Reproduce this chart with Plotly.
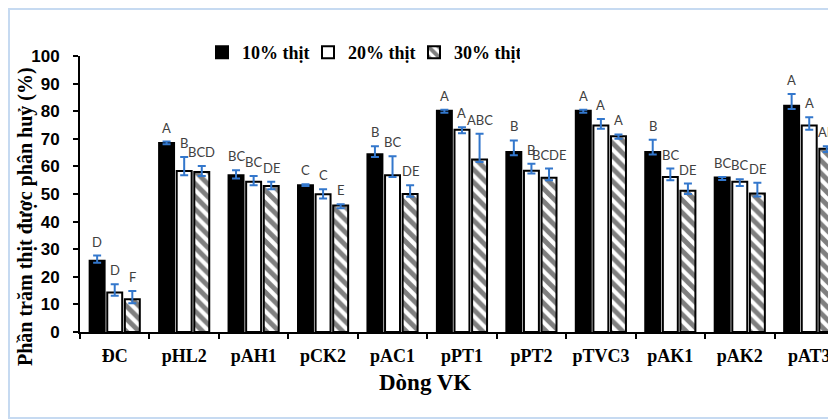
import plotly.graph_objects as go

categories = ["ĐC", "pHL2", "pAH1", "pCK2", "pAC1", "pPT1", "pPT2", "pTVC3", "pAK1", "pAK2", "pAT3"]
series_names = ["10% thịt", "20% thịt", "30% thịt"]

m10 = [25.8, 68.5, 56.8, 53.2, 64.4, 80.2, 65.2, 80.2, 65.2, 56.0, 82.0]
m20 = [14.3, 58.3, 54.4, 49.9, 56.8, 73.3, 58.4, 74.8, 56.2, 54.4, 74.8]
m30 = [11.9, 58.0, 52.9, 45.8, 50.0, 62.5, 55.9, 70.9, 51.2, 50.2, 66.4]

e10_plus = [1.9, 0.5, 1.8, 0.3, 2.9, 0.3, 4.2, 0.3, 4.5, 0.2, 4.2]
e10_minus = [0.7, 0.5, 1.2, 0.3, 1.0, 0.8, 1.2, 0.8, 0.9, 0.9, 1.2]
e20_plus = [3.0, 5.1, 2.1, 1.8, 6.9, 0.9, 2.6, 2.4, 3.0, 0.9, 3.0]
e20_minus = [1.2, 1.5, 1.2, 1.5, 0.6, 1.3, 1.0, 1.2, 1.2, 1.5, 1.5]
e30_plus = [3.0, 2.1, 1.5, 0.5, 3.2, 9.3, 3.3, 0.7, 2.6, 3.9, 0.9]
e30_minus = [1.5, 1.5, 1.2, 1.0, 1.0, 0.9, 0.9, 0.9, 1.2, 1.1, 1.2]

l10 = ["D", "A", "BC", "C", "B", "A", "B", "A", "B", "BC", "A"]
l20 = ["D", "B", "BC", "C", "BC", "A", "B", "A", "BC", "BC", "A"]
l30 = ["F", "BCD", "DE", "E", "DE", "ABC", "BCDE", "A", "DE", "DE", "AB"]

y_ticks = [0, 10, 20, 30, 40, 50, 60, 70, 80, 90, 100]

# ---- layout constants (page body has an 8px margin) ----
OFF = 8
W, H = 836 - OFF, 420 - OFF
ML, MR, MT, MB = 80 - OFF, 0, 56 - OFF, H - (332 - OFF)
CAT_PX = 69.45
BARGAP = 0.24
GROUPGAP = 0.15
plot_w = W - ML - MR
plot_h = H - MT - MB
x_span = plot_w / CAT_PX

ERR_COLOR = "#3377CC"
serif = "Liberation Serif"

fills = [
    dict(color="black"),
    dict(color="white"),
    dict(color="white", pattern=dict(shape="\\", fgcolor="black", bgcolor="white", size=9, solidity=0.55)),
]

means = [m10, m20, m30]
eplus = [e10_plus, e20_plus, e30_plus]
eminus = [e10_minus, e20_minus, e30_minus]
letters = [l10, l20, l30]

fig = go.Figure()
for i in range(3):
    fig.add_trace(go.Bar(
        name=series_names[i],
        x=categories,
        y=means[i],
        marker=dict(**fills[i], line=dict(color="black", width=2)),
        error_y=dict(type="data", symmetric=False, array=eplus[i], arrayminus=eminus[i],
                     color=ERR_COLOR, thickness=2, width=4),
    ))

slot_px = (1 - BARGAP) * CAT_PX / 3
annotations = []
for i in range(3):
    for c, v, p, t in zip(categories, means[i], eplus[i], letters[i]):
        annotations.append(dict(
            x=c, y=v + p, xref="x", yref="y", text=t, showarrow=False,
            xshift=(i - 1) * slot_px, yshift=14, yanchor="middle", xanchor="center",
            font=dict(family="Lato", size=13, color="#404040"),
        ))

def px_x(px):
    return (px - OFF - ML) / plot_w

def px_y(py):
    return (H - MB - (py - OFF)) / plot_h

annotations.append(dict(
    x=px_x(26), y=px_y(217), xref="paper", yref="paper", text="Phần trăm thịt được phân huỷ (%)",
    textangle=-90, showarrow=False, xanchor="center", yanchor="middle",
    font=dict(family=serif, size=20, color="black", weight="bold"),
))
annotations.append(dict(
    x=px_x(425), y=px_y(382), xref="paper", yref="paper", text="Dòng VK",
    showarrow=False, xanchor="center", yanchor="middle",
    font=dict(family=serif, size=23, color="black", weight="bold"),
))

shapes = [dict(
    type="rect", xref="paper", yref="paper",
    x0=px_x(OFF + 1), x1=px_x(860), y0=px_y(418), y1=px_y(OFF + 1),
    line=dict(color="#C6DAF1", width=2), fillcolor="rgba(0,0,0,0)", layer="below",
)]

fig.update_layout(
    width=W, height=H,
    margin=dict(l=ML, r=MR, t=MT, b=MB, autoexpand=False),
    paper_bgcolor="white", plot_bgcolor="white",
    barmode="group", bargap=BARGAP, bargroupgap=GROUPGAP,
    showlegend=True,
    legend=dict(
        orientation="h", x=px_x(202), y=px_y(34), xanchor="left", yanchor="top",
        font=dict(family=serif, size=18, color="black", weight="bold"),
        entrywidth=61, entrywidthmode="pixels", itemwidth=30,
        bgcolor="rgba(0,0,0,0)", traceorder="normal",
    ),
    annotations=annotations,
    shapes=shapes,
    xaxis=dict(
        type="category", range=[-0.5, -0.5 + x_span],
        showline=True, linecolor="black", linewidth=2,
        ticks="outside", tickson="boundaries", ticklen=5, tickwidth=2, tickcolor="black",
        showgrid=False, zeroline=False, automargin=False, tickangle=0,
        tickfont=dict(family=serif, size=18, color="black", weight="bold"),
        ticklabelstandoff=6,
    ),
    yaxis=dict(
        range=[0, 100], tickvals=y_ticks,
        showline=True, linecolor="black", linewidth=2,
        ticks="outside", ticklen=5, tickwidth=2, tickcolor="black",
        showgrid=False, zeroline=False, automargin=False,
        tickfont=dict(family="Liberation Sans", size=17, color="black", weight="bold"),
        ticklabelstandoff=10,
    ),
)

fig.write_html("out.html")
